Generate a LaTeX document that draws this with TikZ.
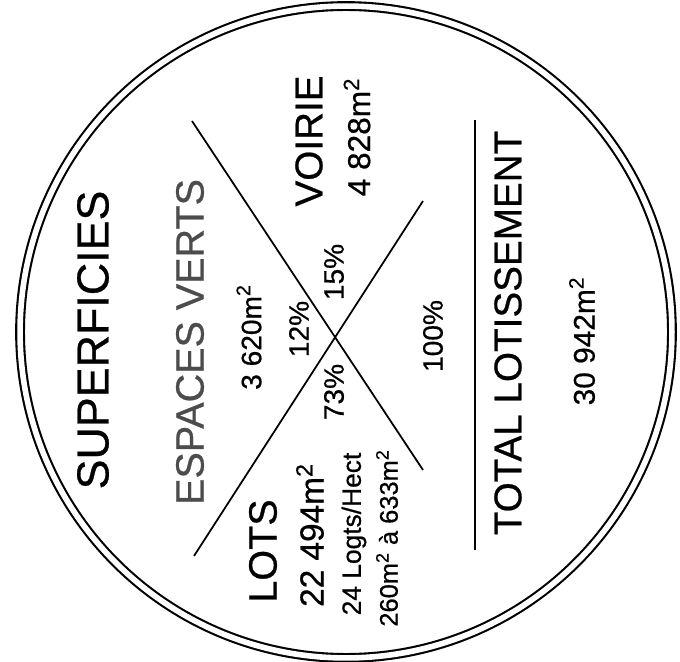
\documentclass[tikz,border=0pt]{standalone}
\usepackage{fontspec}
\setmainfont[FakeBold=0.6]{Liberation Sans}
\usetikzlibrary{math}

\tikzset{
  vtext/.style={rotate=90, inner sep=0pt},
  cross/.style={line width=1pt},
}
\newcommand{\fs}[1]{\fontsize{#1}{#1}\selectfont}

\begin{document}
\begin{tikzpicture}[x=0.02cm,y=-0.02cm]
\tikzmath{
\cx=346;
\cy=332;
}
\useasboundingbox (0,0) rectangle (680,662);

\draw[line width=1.2pt, double distance=3.2pt] (\cx,\cy) circle[radius=6.52cm];

% the cross and the total line
\coordinate (a1) at (192,121);
\coordinate (a2) at (423,470);
\coordinate (b1) at (194,556);
\coordinate (b2) at (423,201);
\coordinate (t1) at (475,120);
\coordinate (t2) at (475,550);
\draw[cross] (a1) -- (a2);
\draw[cross] (b1) -- (b2);
\draw[cross] (t1) -- (t2);

\node[vtext, font=\fs{25.5}] (sup) at (93,340) {SUPERFICIES};

\node[vtext, font=\fs{22.5}, text=black!70] (ev) at (190,342) {ESPACES VERTS};
\node[vtext, font=\fs{16}] (evs) at (249,337) {3 620m\textsuperscript{2}};

\node[vtext, font=\fs{22.5}] (lots) at (263,551) {LOTS};
\node[vtext, font=\fs{19}] (lotss) at (310,535) {22 494m\textsuperscript{2}};
\node[vtext, font=\fs{15}] (lotsd) at (354,534) {24 Logts/Hect};
\node[vtext, font=\fs{14.5}] (lotsr) at (387,538) {260m\textsuperscript{2} à 633m\textsuperscript{2}};

\node[vtext, font=\fs{16}] (p12) at (299,329) {12\%};
\node[vtext, font=\fs{16}] (p15) at (334,272) {15\%};
\node[vtext, font=\fs{16}] (p73) at (334,392) {73\%};
\node[vtext, font=\fs{16}] (p100) at (433,336) {100\%};

\node[vtext, font=\fs{22}] (voi) at (309,141) {VOIRIE};
\node[vtext, font=\fs{18}] (vois) at (357,137) {4 828m\textsuperscript{2}};

\node[vtext, font=\fs{22}] (tot) at (508,333) {TOTAL LOTISSEMENT};
\node[vtext, font=\fs{17}] (tots) at (582,341) {30 942m\textsuperscript{2}};

\end{tikzpicture}
\end{document}
